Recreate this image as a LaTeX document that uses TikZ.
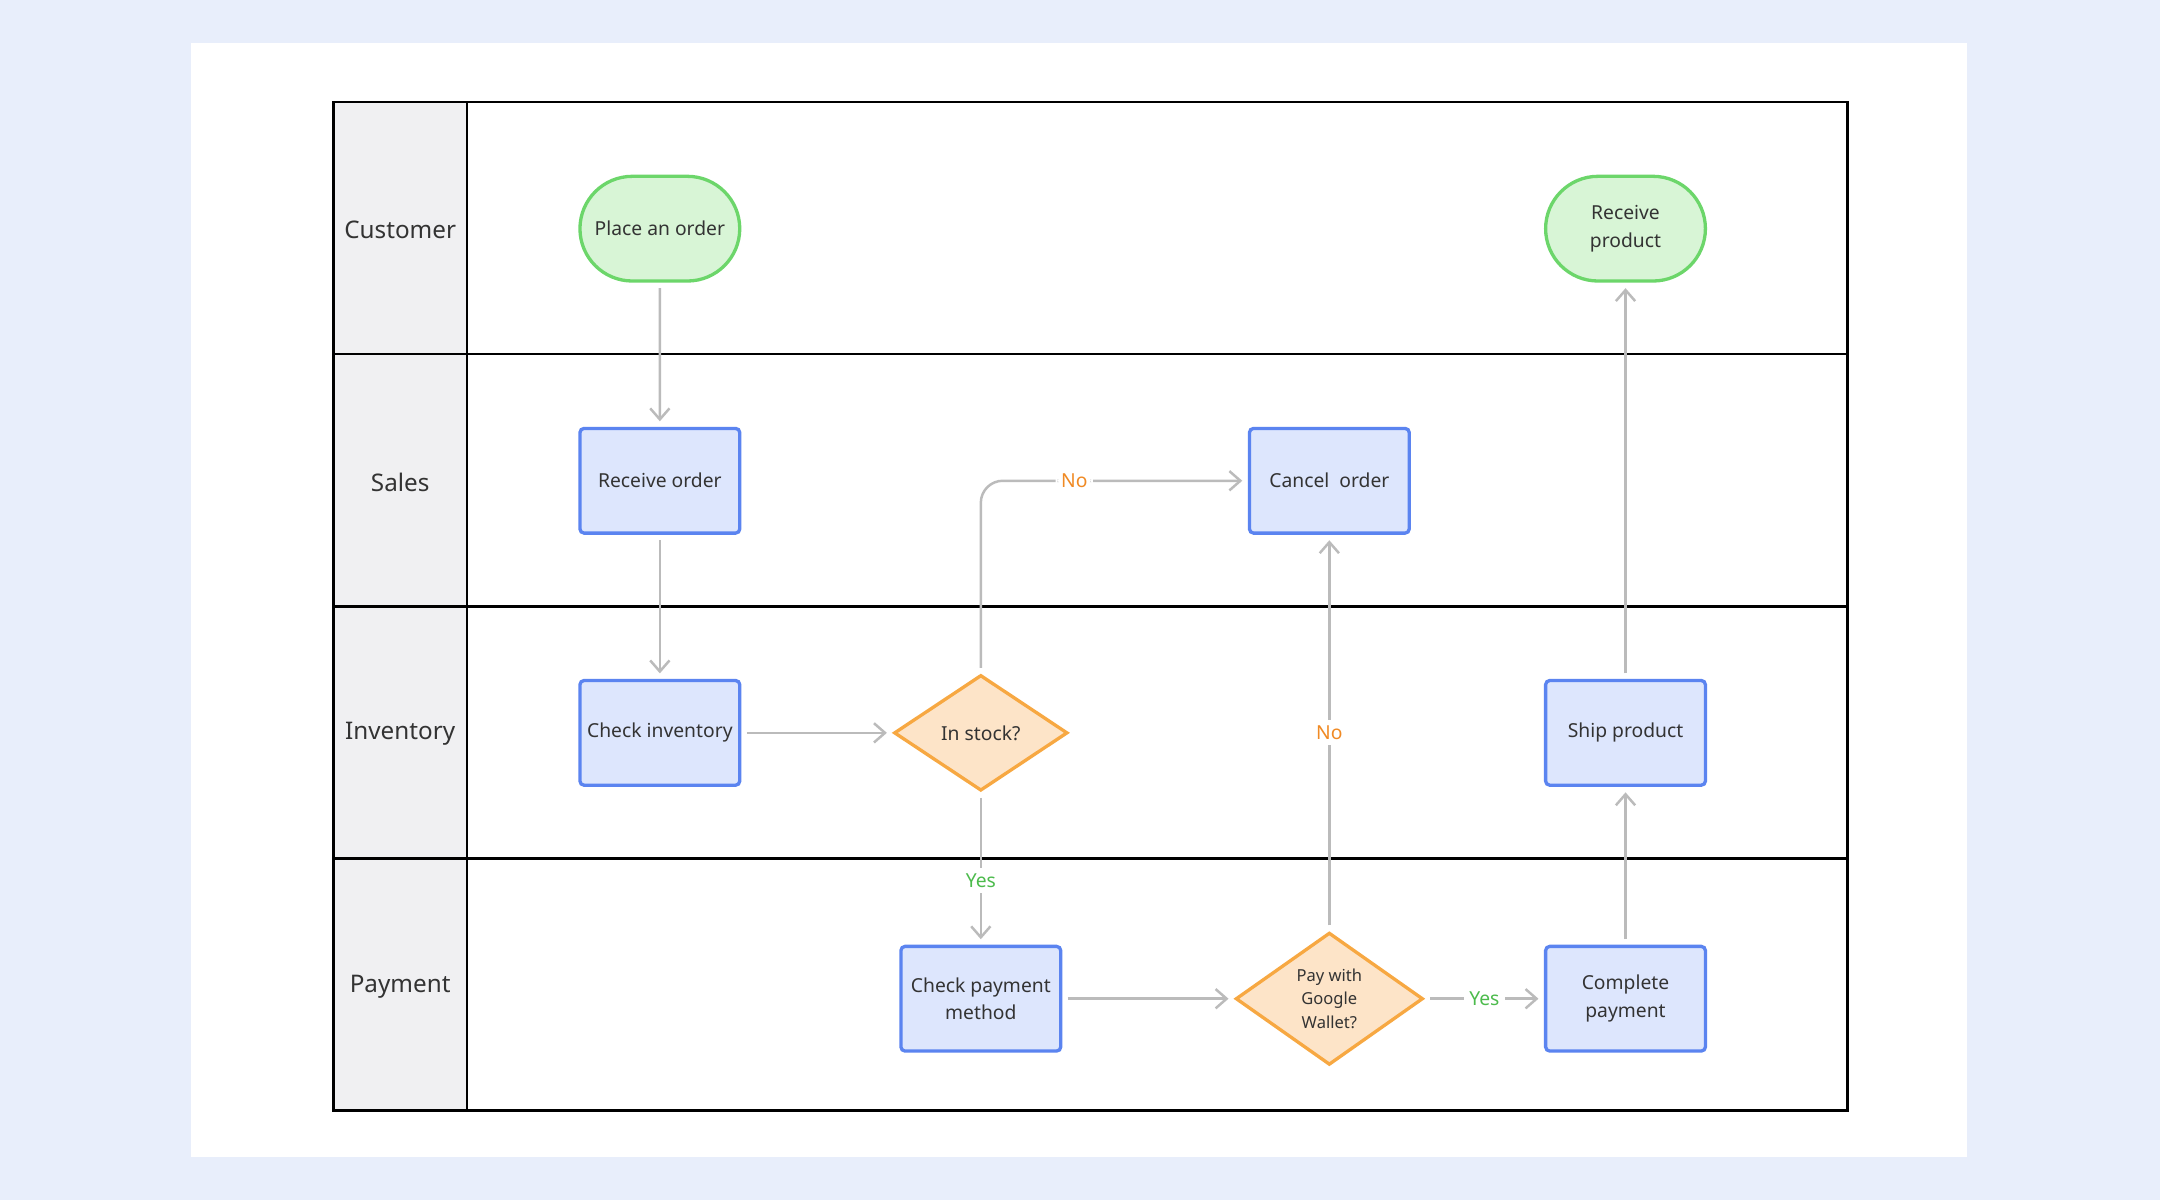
\documentclass[tikz,border=0pt]{standalone}
\usepackage{fontspec}
\setmainfont{Noto Sans}
\usetikzlibrary{shapes.geometric,shapes.misc,arrows.meta}
\definecolor{bgb}{HTML}{E8EEFB}
\definecolor{lanef}{HTML}{F0F0F2}
\definecolor{gf}{HTML}{D8F5D6}\definecolor{gd}{HTML}{6CD66A}
\definecolor{bf}{HTML}{DDE6FD}\definecolor{bd}{HTML}{5B84F0}
\definecolor{of}{HTML}{FDE4C8}\definecolor{od}{HTML}{F7A842}
\definecolor{ln}{HTML}{BBBBBB}
\definecolor{ot}{HTML}{F08A24}\definecolor{gt}{HTML}{4CBB4C}
\definecolor{tx}{HTML}{333333}
\begin{document}
\begin{tikzpicture}[x=0.5pt,y=-0.5pt,
  term/.style={rounded rectangle,draw=gd,fill=gf,line width=1.2pt,minimum width=58pt,minimum height=38pt,align=center,font=\fontsize{7}{10}\selectfont,text=tx,inner sep=0pt},
  proc/.style={rectangle,rounded corners=1.5pt,draw=bd,fill=bf,line width=1.2pt,minimum width=58pt,minimum height=38pt,align=center,font=\fontsize{7}{10}\selectfont,text=tx,inner sep=0pt},
  dec/.style={diamond,draw=od,fill=of,line width=1.2pt,aspect=1.5,inner sep=0pt,align=center,font=\fontsize{7}{10}\selectfont,text=tx},
  conn/.style={draw=ln,line width=0.9pt,-{Straight Barb[length=4pt,width=7pt]},shorten >=2pt,shorten <=2pt},
  lab/.style={fill=white,font=\fontsize{7}{9}\selectfont,inner sep=2pt},
  lane/.style={font=\fontsize{8.8}{11}\selectfont,text=tx}]
\fill[bgb] (0,0) rectangle (1568,871);
\fill[white] (139,31) rectangle (1428,840);
\fill[lanef] (242,74) rectangle (339,806);
\draw[line width=1pt] (242,74) rectangle (1341,806);
\draw[line width=1pt] (339,74) -- (339,806);
\foreach \y in {257,440,623} \draw[line width=1pt] (242,\y) -- (1341,\y);
\node[lane] (l1) at (290.5,167) {Customer};
\node[lane] (l2) at (290.5,350) {Sales};
\node[lane] (l3) at (290.5,533) {Inventory};
\node[lane] (l4) at (290.5,716) {Payment};
\node[term] (po) at (479,166) {Place an order};
\node[term] (rp) at (1180,166) {Receive\\product};
\node[proc] (ro) at (479,349) {Receive order};
\node[proc] (co) at (965,349) {Cancel\ \ order};
\node[proc] (ci) at (479,532) {Check inventory};
\node[dec,minimum width=63pt,minimum height=42pt] (is) at (712,532) {In stock?};
\node[proc] (sp) at (1180,532) {Ship product};
\node[proc] (cp) at (712,725) {Check payment\\method};
\node[dec,minimum width=68pt,minimum height=48pt,font=\fontsize{6}{8.5}\selectfont] (pw) at (965,725) {Pay with\\Google\\Wallet?};
\node[proc] (cmp) at (1180,725) {Complete\\payment};
\draw[conn] (po) -- (ro);
\draw[conn] (ro) -- (ci);
\draw[conn] (ci) -- (is);
\draw[conn,rounded corners=8pt] (is.north) -- (712,349) -- node[lab,text=ot,pos=0.35]{No} (co.west);
\draw[conn] (is.south) -- node[lab,text=gt,pos=0.58]{Yes} (cp.north);
\draw[conn] (cp) -- (pw.west);
\draw[conn] (pw.north) -- node[lab,text=ot,pos=0.5]{No} (co.south);
\draw[conn] (pw.east) -- node[lab,text=gt]{Yes} (cmp.west);
\draw[conn] (cmp) -- (sp);
\draw[conn] (sp) -- (rp);
\end{tikzpicture}
\end{document}
